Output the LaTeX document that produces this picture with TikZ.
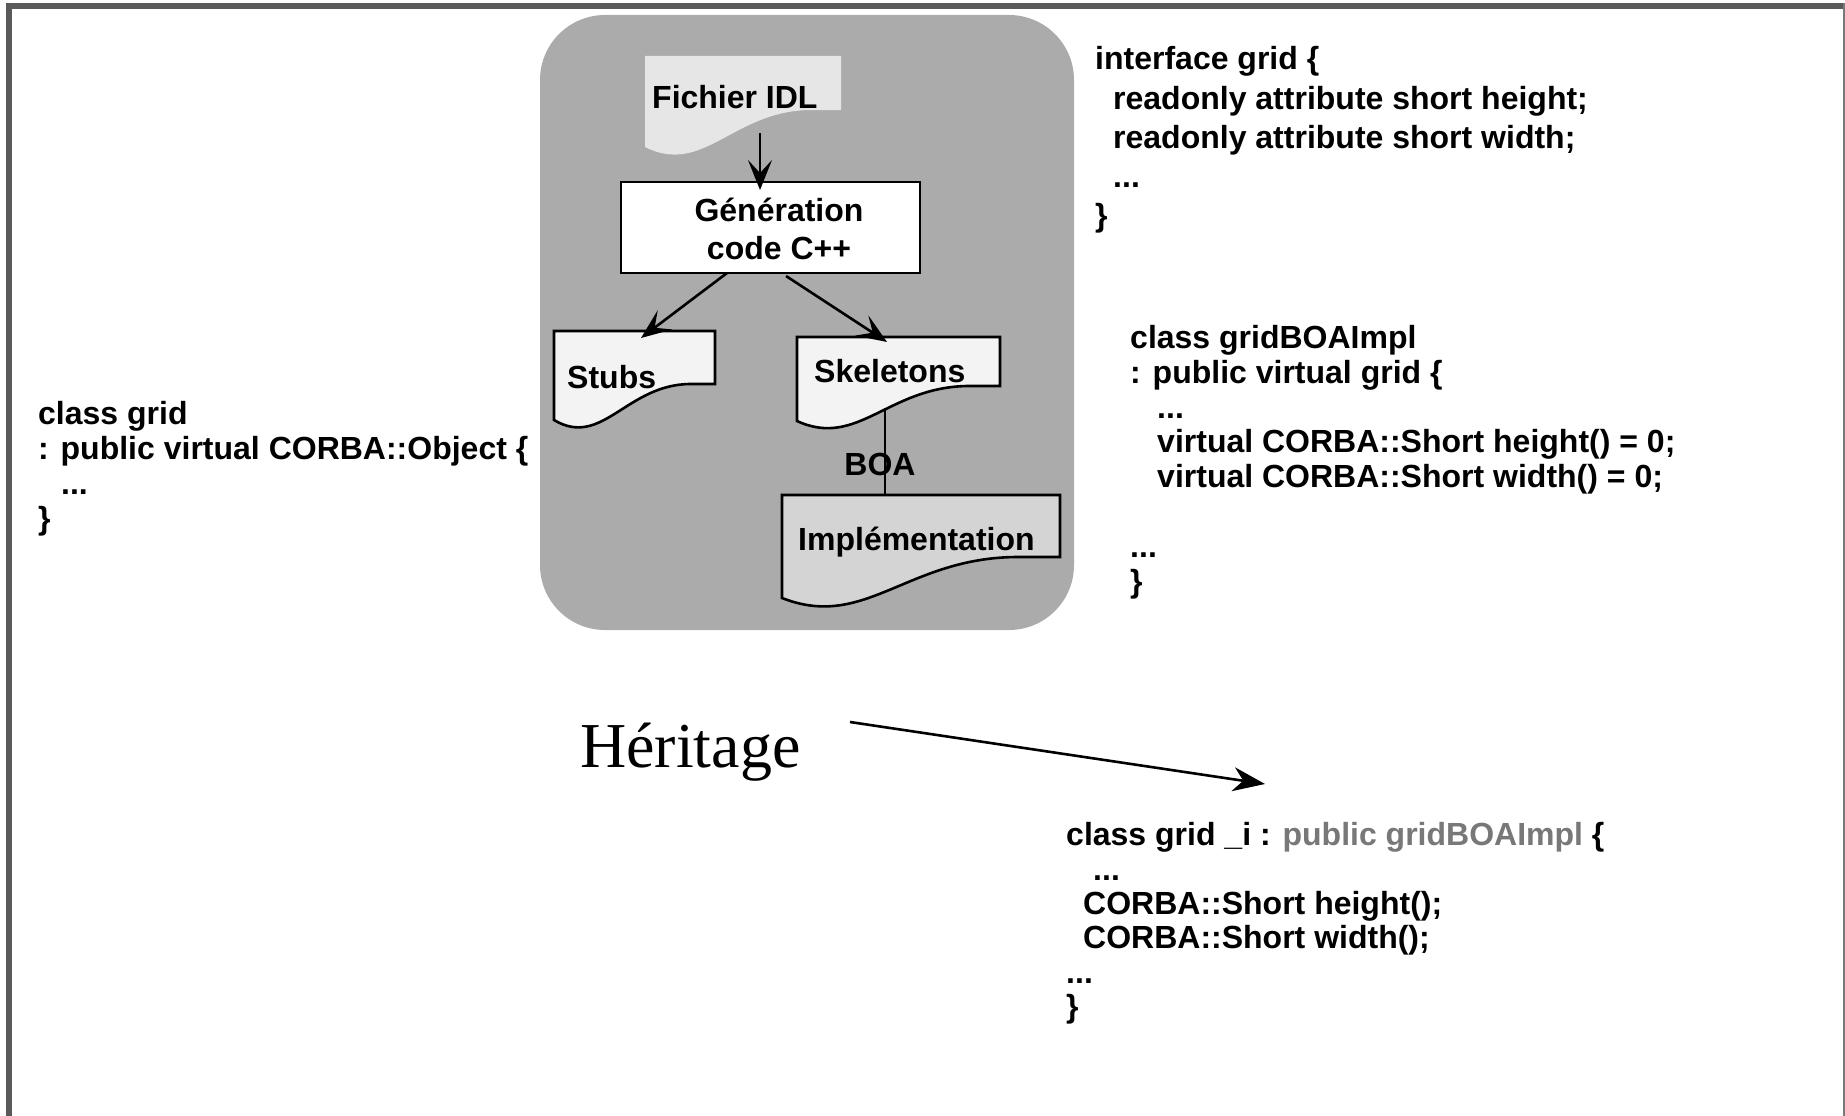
\documentclass[tikz,border=0pt]{standalone}
\usepackage{fontspec}
\setmainfont{Liberation Sans}
\newfontfamily\serifface{Liberation Serif}
\usetikzlibrary{arrows.meta,calc}

\definecolor{framegray}{RGB}{90,90,90}
\definecolor{panelgray}{RGB}{171,171,171}
\definecolor{idlfill}{RGB}{230,230,230}
\definecolor{stubfill}{RGB}{243,243,243}
\definecolor{implfill}{RGB}{212,212,212}
\definecolor{codegray}{RGB}{120,120,120}

% document symbol: flat top, wavy bottom (x0, top, x1, right bottom, left bottom)
\newcommand\docshape[6]{%
  \path[#1] (#2,#3) -- (#4,#3) -- (#4,#5) -- ({#2+0.85*(#4-#2)},#5)
    .. controls ({#2+0.45*(#4-#2)},#5) and ({#2+0.3*(#4-#2)},{#6+0.8*(#6-#5)}) .. (#2,#6) -- cycle;}

\begin{document}
\begin{tikzpicture}[x=1pt,y={(0pt,-1pt)},
  code/.style={font=\fontsize{32}{38}\selectfont\bfseries, anchor=base west, inner sep=0pt},
  label/.style={font=\fontsize{32}{38}\selectfont\bfseries, inner sep=0pt},
  arr/.style={line width=2.6pt, -{Stealth[length=30pt,width=24pt,inset=13pt]}},
  doc/.style={draw=black, line width=2.6pt, line join=miter},
]
\useasboundingbox (0,0) rectangle (1845,1116);
\fill[white] (0,0) rectangle (1845,1116);

% frame
\fill[framegray] (6,3) rectangle (1845,9);
\fill[framegray] (6,3) rectangle (12,1116);
\fill[codegray] (1843,3) rectangle (1845,1116);

% gray panel
\fill[panelgray, rounded corners=65pt] (540,15) rectangle (1074,630);

% BOA link (behind the documents)
\coordinate (skelbot) at (885,405);
\coordinate (impltop) at (885,496);
\draw[line width=2.6pt] (skelbot) -- (impltop);

% documents
\docshape{fill=idlfill}{645}{56}{841}{110}{147}
\docshape{doc, fill=stubfill}{554}{331}{715}{384}{420}
\docshape{doc, fill=stubfill}{797}{337}{1000}{386}{421}
\docshape{doc, fill=implfill}{782}{495}{1060}{557}{598}

% code generation box
\node[draw=black, line width=2.6pt, fill=white, minimum width=299pt, minimum height=91pt, inner sep=0pt] (gen) at (770.5,227.5) {};
\node[label, align=center] (gentext) at (779,229) {Génération\\code C++};

% labels
\node[code] (idl) at (652,108) {Fichier IDL};
\node[code] (stubs) at (567,388) {Stubs};
\node[code] (skel) at (814,382) {Skeletons};
\node[label, anchor=base] (boa) at (880,475) {BOA};
\node[code] (impl) at (798,550) {Implémentation};

% flow arrows
\coordinate (idlout) at (760,133);
\coordinate (genin) at (760,190);
\coordinate (genl) at (727,273);
\coordinate (genr) at (786,276);
\coordinate (stubin) at (641,338);
\coordinate (skelin) at (887,342);
\draw[arr] (idlout) -- (genin);
\draw[arr] (genl) -- (stubin);
\draw[arr] (genr) -- (skelin);

% IDL interface
\node[code] (if1) at (1095,70) {interface grid \{};
\node[code] (if2) at (1113,109) {readonly attribute short height;};
\node[code] (if3) at (1113,148) {readonly attribute short width;};
\node[code] (if4) at (1113,187) {...};
\node[code] (if5) at (1095,226) {\}};

% skeleton class
\node[code] (bo1) at (1130,348) {class gridBOAImpl};
\node[code] (bo2) at (1130,383) {: public virtual grid \{};
\node[code] (bo3) at (1157,418) {...};
\node[code] (bo4) at (1157,452) {virtual CORBA::Short height() = 0;};
\node[code] (bo5) at (1157,487) {virtual CORBA::Short width() = 0;};
\node[code] (bo6) at (1130,557) {...};
\node[code] (bo7) at (1130,592) {\}};

% stub class
\node[code] (cg1) at (38,424) {class grid};
\node[code] (cg2) at (38,459) {: public virtual CORBA::Object \{};
\node[code] (cg3) at (61,494) {...};
\node[code] (cg4) at (38,529) {\}};

% implementation class
\node[code] (gi1) at (1066,845) {class grid \_i : {\color{codegray}public gridBOAImpl} \{};
\node[code] (gi2) at (1093,880) {...};
\node[code] (gi3) at (1083,914) {CORBA::Short height();};
\node[code] (gi4) at (1083,948) {CORBA::Short width();};
\node[code] (gi5) at (1066,983) {...};
\node[code] (gi6) at (1066,1017) {\}};

% inheritance
\node[font=\serifface\fontsize{64}{70}\selectfont, anchor=base west, inner sep=0pt] (herit) at (580,767) {Héritage};
\coordinate (hstart) at (850,722);
\coordinate (hend) at (1265,784);
\draw[line width=2.6pt, -{Stealth[length=32pt,width=24pt,inset=10pt]}] (hstart) -- (hend);
\end{tikzpicture}
\end{document}
